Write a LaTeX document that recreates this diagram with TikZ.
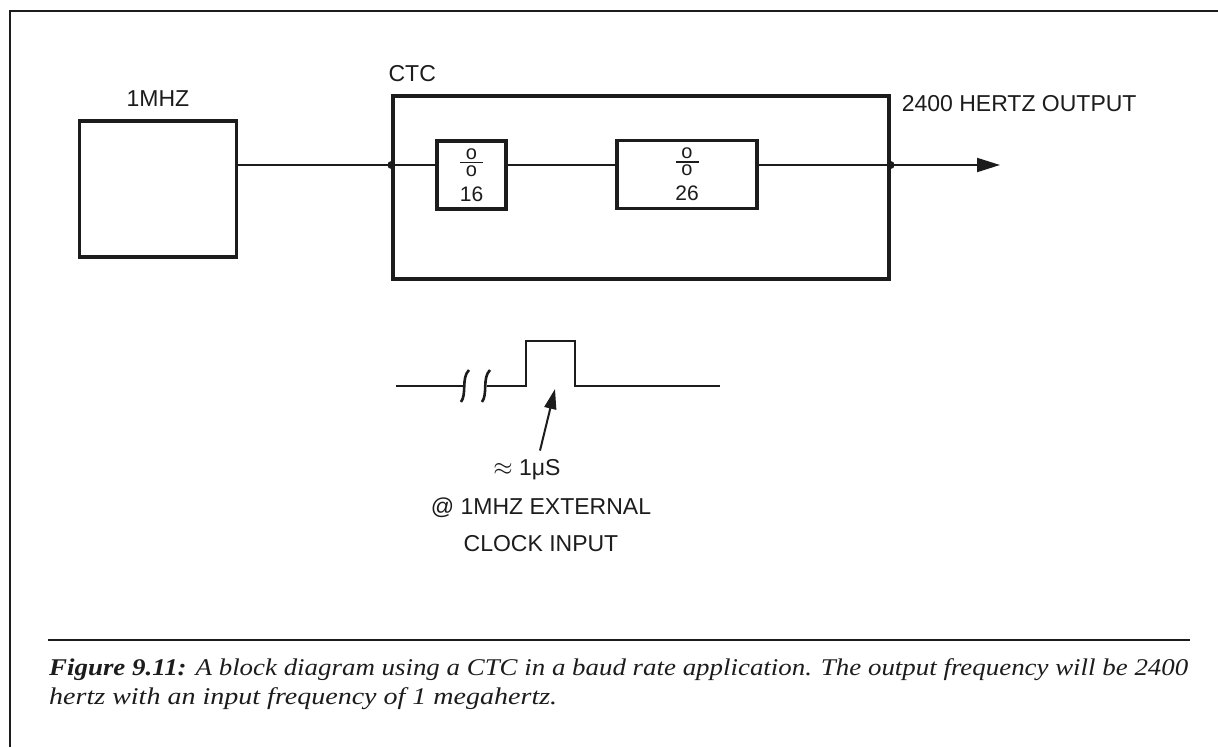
\documentclass[tikz,border=0pt]{standalone}
\usepackage{fontspec}
\usepackage{graphicx}
\setmainfont{Liberation Serif}
\newfontfamily\bdsans{Liberation Sans}
\usetikzlibrary{arrows.meta,calc,positioning}
\definecolor{bdInk}{HTML}{1C1C1C}
\definecolor{bdPaper}{HTML}{FFFFFF}
\newcommand{\BDType}{\bdsans\fontsize{23}{37}\selectfont}
\newcommand{\BDNum}{\bdsans\fontsize{21}{24}\selectfont}
\newcommand{\BDCaption}{\rmfamily\itshape\fontsize{24}{28}\selectfont}
\newcommand{\BDDivide}{{\fontsize{20}{20}\selectfont
  \vbox{\hbox to 23pt{\hss o\hss}\kern2.5pt\hrule height 1.4pt\kern2.5pt\hbox to 23pt{\hss o\hss}}}}
\tikzset{bd/base/.style={x=1pt,y=-1pt,line cap=butt,line join=miter,
  every node/.style={font=\BDType,inner sep=0pt,text=bdInk}},
  bd/tip/.style={-{Triangle[length=23pt,width=14pt]}},
  bd/wire/.style={draw=bdInk,line width=2pt},
  bd/pulse/.style={draw=bdInk,line width=2.6pt},
  bd/frame/.style={draw=bdInk,line width=2.4pt},
  bd/box/.style={draw=bdInk,line width=3.2pt,inner sep=0pt},
  bd/divbox/.style={bd/box,minimum height=68pt,font=\BDNum,align=center}}

\begin{document}
\begin{tikzpicture}[bd/base]
  \useasboundingbox[fill=bdPaper] (0,0) rectangle (1218,747);
  \draw[bd/frame] (10,747) -- (10,11) -- (1218,11);
  % oscillator and counter/timer chip
  \node[bd/box,minimum width=157pt,minimum height=136pt] (osc) at (158,189) {};
  \node[above=13pt of osc] (oscName) {1MHZ};
  \node[bd/box,minimum width=496pt,minimum height=183pt] (ctc) at (641,187.5) {};
  \node[above right=12pt and -3pt of ctc.north west] (ctcName) {CTC};
  \node[bd/divbox,minimum width=69pt] (div16) at (471.5,175) {\BDDivide\\[1pt]16};
  \node[bd/divbox,minimum width=140pt] (div26) at (687,174.5) {\BDDivide\\[1pt]26};
  \node[below right=1pt and 11pt of ctc.north east] (outName) {2400 HERTZ OUTPUT};
  \coordinate (bus) at (0,165);
  \coordinate (outTip) at (1000,165);
  \draw[bd/wire] (osc.east |- bus) -- (ctc.west |- bus) -- (div16.west |- bus);
  \draw[bd/wire] (div16.east |- bus) -- (div26.west |- bus);
  \draw[bd/wire,bd/tip] (div26.east |- bus) -- (outTip);
  \fill[bdInk] (ctc.west |- bus) circle (4pt) (ctc.east |- bus) circle (4pt);
  % clock pulse
  \draw[bd/pulse] (396,386) -- (465,386);
  \draw[bd/pulse] (469,370) .. controls (461,378) and (467,394) .. (461,402);
  \draw[bd/pulse] (490,370) .. controls (482,378) and (488,394) .. (482,402);
  \draw[bd/pulse] (487,386) -- (526,386) -- (526,341) -- (575,341) -- (575,386) -- (720,386);
  \node (widthName) at (527,470) {$\approx$ 1μS};
  \node[below=17pt of widthName,xshift=14pt,align=center] (clockName) {@ 1MHZ EXTERNAL\\CLOCK INPUT};
  \coordinate (pulseTip) at (555,389);
  \draw[bd/wire,-{Triangle[length=20pt,width=12pt]}] ([xshift=13pt,yshift=9pt]widthName.north) -- (pulseTip);
  % caption
  \draw[bdInk,line width=2.6pt] (48,640) -- (1190,640);
  \node[anchor=base west,font=\BDCaption] (capLineA) at (49,675)
    {\resizebox{1139pt}{\height}{\textbf{Figure 9.11:} A block diagram using a CTC in a baud rate application. The output frequency will be 2400}};
  \node[anchor=base west,font=\BDCaption] (capLineB) at (49,704)
    {\resizebox{508pt}{\height}{hertz with an input frequency of 1 megahertz.}};
\end{tikzpicture}
\end{document}
